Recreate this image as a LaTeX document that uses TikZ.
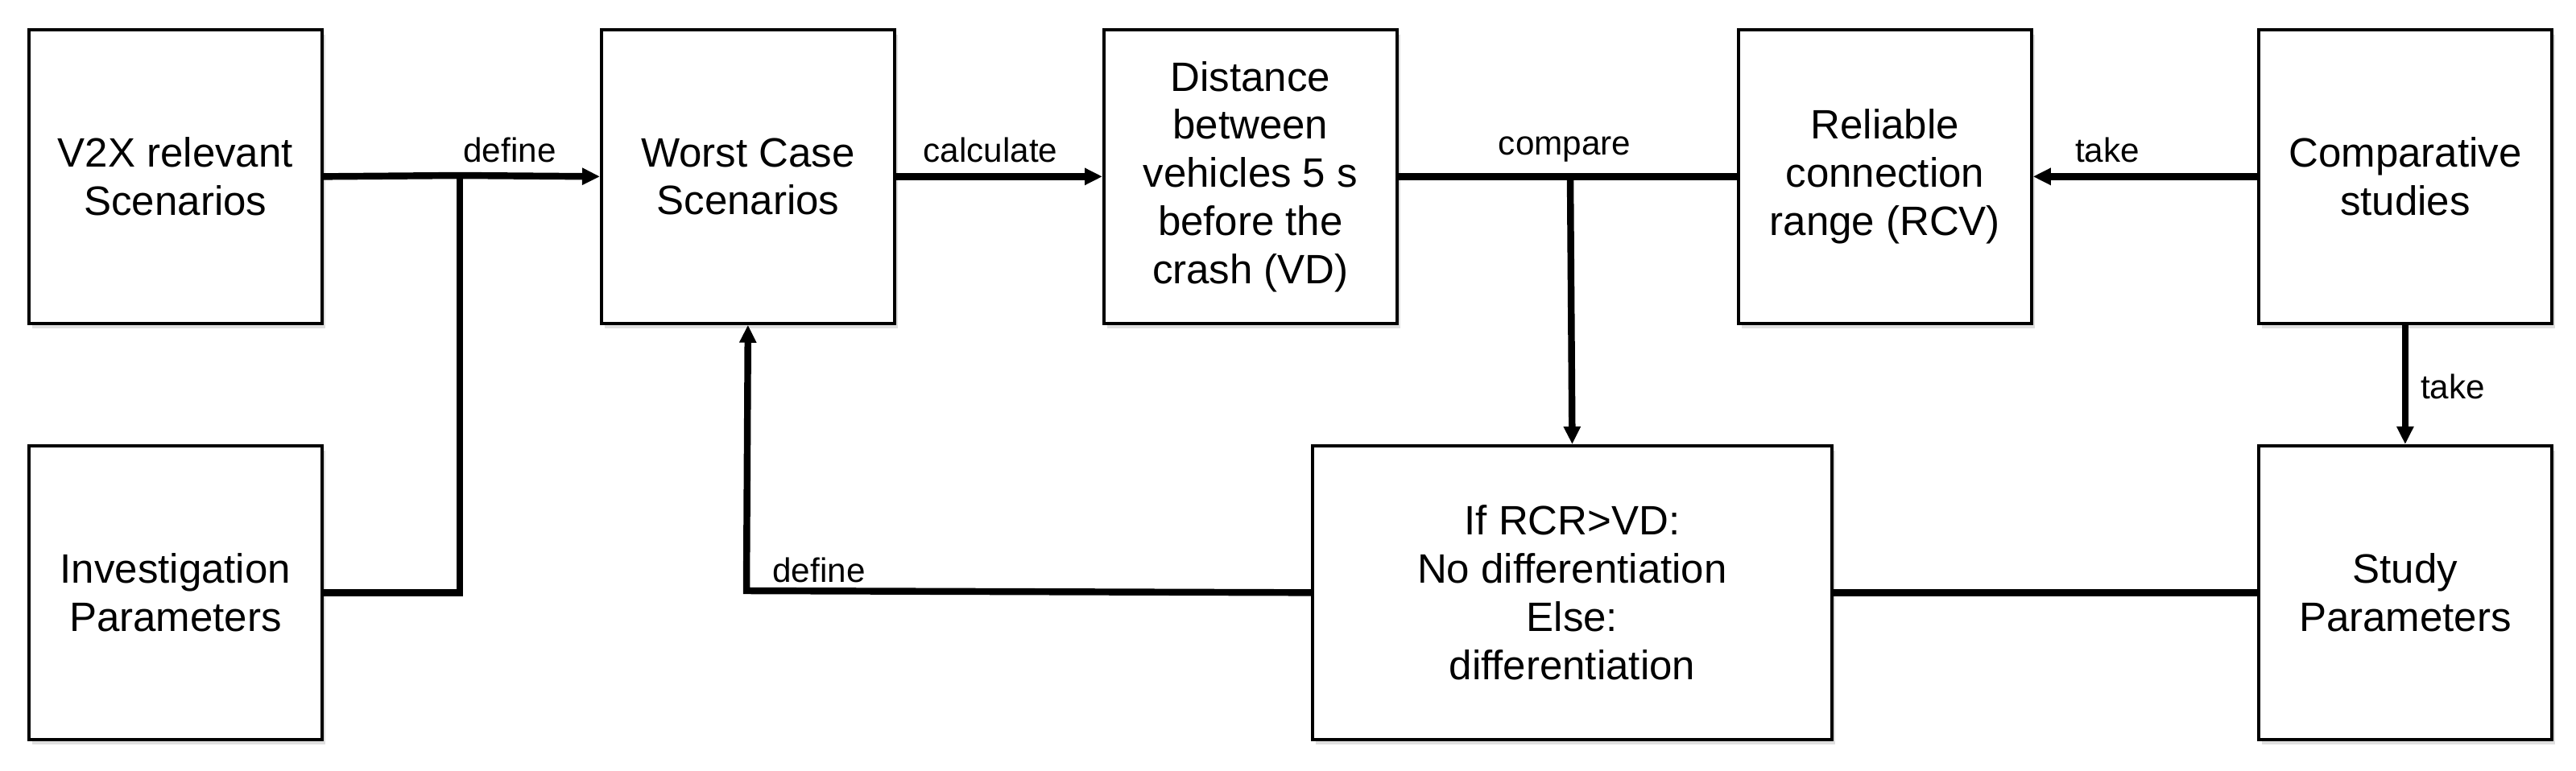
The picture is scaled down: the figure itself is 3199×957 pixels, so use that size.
\documentclass[tikz,border=0pt]{standalone}
\usepackage{fontspec}
\setmainfont{Liberation Sans}
\usetikzlibrary{arrows.meta,shadows}
\begin{document}
\begin{tikzpicture}[x=0.01cm,y=-0.01cm,
  box/.style={draw=black,line width=1pt,fill=white,minimum width=3.64cm,minimum height=3.65cm,anchor=north west,align=center,font=\fontsize{14.5}{17}\selectfont,inner sep=0pt,drop shadow={shadow xshift=0.04cm,shadow yshift=-0.06cm,opacity=0.25}},
  conn/.style={line width=2.4pt},
  arr/.style={conn,-{Triangle[length=0.22cm,width=0.2cm]}},
  lbl/.style={font=\fontsize{12}{14}\selectfont,inner sep=0pt}]
\useasboundingbox (0,0) rectangle (3199,957);
\node[box] (v2x) at (34,35) {V2X relevant\\Scenarios};
\node[box] (inv) at (34,552) {Investigation\\Parameters};
\node[box] (wc) at (745,35) {Worst Case\\Scenarios};
\node[box] (dist) at (1369,35) {Distance\\between\\vehicles 5 s\\before the\\crash (VD)};
\node[box] (rel) at (2157,35) {Reliable\\connection\\range (RCV)};
\node[box] (comp) at (2803,35) {Comparative\\studies};
\node[box,minimum width=6.45cm] (if) at (1628,552) {If RCR>VD:\\No differentiation\\Else:\\differentiation};
\node[box] (study) at (2803,552) {Study\\Parameters};
\coordinate (j) at (571,218);
\coordinate (c) at (1950,218);
\coordinate (f) at (927,734);
\draw[conn] (v2x.east) -- (j);
\draw[conn] (inv.east) -| (j);
\draw[arr] (j) -- (wc.west);
\draw[arr] (wc.east) -- (dist.west);
\draw[conn] (dist.east) -- (rel.west);
\draw[arr] (c) -- (if.north);
\draw[arr] (comp.west) -- (rel.east);
\draw[arr] (comp.south) -- (study.north);
\draw[conn] (study.west) -- (if.east);
\draw[arr] (if.west) -- (f) -- (wc.south);
\node[lbl] at (633,186) {define};
\node[lbl] at (1230,186) {calculate};
\node[lbl] at (1943,186) {compare};
\node[lbl] at (2617,186) {take};
\node[lbl] at (3046,480) {take};
\node[lbl] at (1017,708) {define};
\end{tikzpicture}
\end{document}
